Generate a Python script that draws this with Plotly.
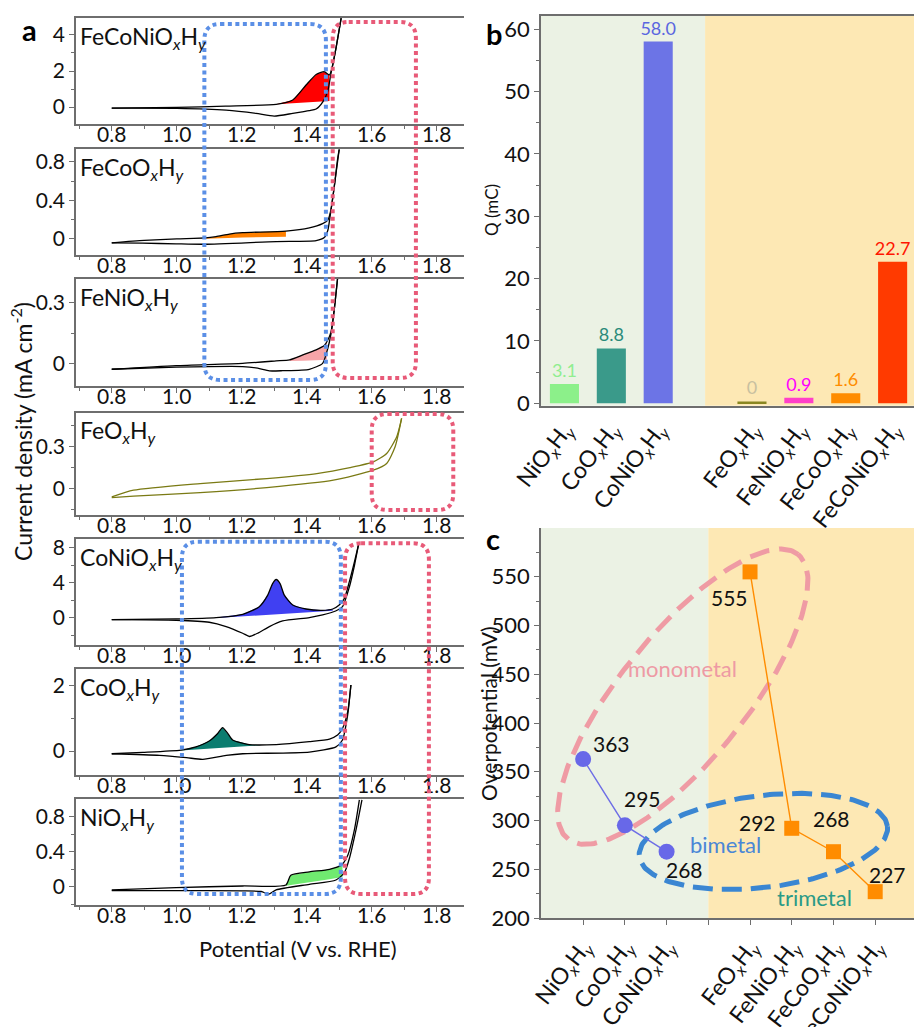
import numpy as np
import plotly.graph_objects as go

W, H = 914, 1027
FONT = "Lato, 'Open Sans', sans-serif"

# ---------------- DATA ----------------
# Panel a: CV curves (potential V vs RHE, current density mA cm-2)
feconi_an_V = [0.80, 1.00, 1.15, 1.306, 1.357, 1.398, 1.429, 1.454, 1.47, 1.48, 1.49, 1.506]
feconi_an_j = [-0.06, -0.02, 0.05, 0.15, 0.39, 1.22, 1.81, 1.96, 1.78, 2.33, 3.26, 4.93]
feconi_cat_V = [1.506, 1.49, 1.475, 1.465, 1.45, 1.429, 1.408, 1.357, 1.30, 1.244, 1.152, 1.0, 0.8]
feconi_cat_j = [4.93, 3.26, 1.9, 0.9, 0.3, -0.11, -0.2, -0.35, -0.5, -0.35, -0.17, -0.07, -0.06]
feconi_pk_V = [1.306, 1.357, 1.398, 1.429, 1.454, 1.47]
feconi_pk_top = [0.15, 0.39, 1.22, 1.81, 1.96, 1.78]
feconi_pk_base = [0.15, 0.206, 0.25, 0.285, 0.31, 0.33]

feco_an_V = [0.80, 0.90, 1.00, 1.088, 1.121, 1.162, 1.203, 1.336, 1.408, 1.449, 1.465, 1.475, 1.485, 1.495, 1.50]
feco_an_j = [-0.04, -0.015, 0.0, 0.01, 0.024, 0.051, 0.065, 0.082, 0.116, 0.16, 0.195, 0.31, 0.55, 0.83, 0.93]
feco_cat_V = [1.50, 1.485, 1.475, 1.465, 1.454, 1.429, 1.306, 1.085, 0.998, 0.895, 0.80]
feco_cat_j = [0.93, 0.55, 0.31, 0.09, 0.014, -0.017, -0.027, -0.055, -0.051, -0.044, -0.04]
feco_pk_V = [1.088, 1.121, 1.162, 1.203, 1.336]
feco_pk_top = [0.01, 0.024, 0.051, 0.065, 0.082]
feco_pk_base = [0.003, 0.007, 0.011, 0.014, 0.024]

feni_an_V = [0.80, 0.998, 1.203, 1.306, 1.347, 1.388, 1.429, 1.454, 1.465, 1.475, 1.485, 1.495]
feni_an_j = [-0.026, -0.008, 0.003, 0.015, 0.02, 0.044, 0.069, 0.09, 0.117, 0.158, 0.27, 0.42]
feni_cat_V = [1.495, 1.485, 1.475, 1.465, 1.449, 1.408, 1.326, 1.285, 1.249, 1.203, 0.998, 0.80]
feni_cat_j = [0.42, 0.27, 0.15, 0.077, 0.003, -0.026, -0.033, -0.034, -0.021, -0.013, -0.016, -0.026]
feni_pk_V = [1.347, 1.388, 1.429, 1.454, 1.462]
feni_pk_top = [0.02, 0.044, 0.069, 0.09, 0.105]
feni_pk_base = [0.015, 0.016, 0.018, 0.02, 0.021]

feo_up_V = [0.80, 0.867, 1.072, 1.277, 1.431, 1.533, 1.605, 1.646, 1.677, 1.692]
feo_up_j = [-0.06, -0.012, 0.036, 0.072, 0.108, 0.151, 0.192, 0.252, 0.372, 0.504]
feo_lo_V = [1.692, 1.672, 1.646, 1.605, 1.482, 1.277, 1.072, 0.867, 0.80]
feo_lo_j = [0.504, 0.30, 0.18, 0.132, 0.06, 0.007, -0.029, -0.055, -0.065]

coni_an_V = [0.80, 0.998, 1.121, 1.203, 1.254, 1.28, 1.295, 1.306, 1.318, 1.331, 1.357, 1.398, 1.449, 1.48, 1.50, 1.516, 1.531, 1.547, 1.56]
coni_an_j = [-0.19, -0.11, 0.04, 0.42, 1.28, 2.6, 3.92, 4.38, 3.92, 2.6, 1.47, 1.02, 0.87, 1.02, 1.47, 2.23, 4.1, 6.4, 8.45]
coni_cat_V = [1.56, 1.547, 1.531, 1.51, 1.489, 1.449, 1.408, 1.326, 1.285, 1.249, 1.224, 1.203, 1.152, 1.10, 0.998, 0.80]
coni_cat_j = [8.45, 6.0, 3.5, 1.28, 0.79, 0.34, 0.04, -0.34, -0.98, -1.74, -2.11, -1.74, -0.98, -0.49, -0.26, -0.19]
coni_pk_V = [1.121, 1.203, 1.254, 1.28, 1.295, 1.306, 1.318, 1.331, 1.357, 1.398, 1.449, 1.48]
coni_pk_top = [0.04, 0.42, 1.28, 2.6, 3.92, 4.38, 3.92, 2.6, 1.47, 1.02, 0.87, 1.02]
coni_pk_base = [0.0, 0.185, 0.30, 0.36, 0.39, 0.41, 0.44, 0.47, 0.53, 0.62, 0.74, 0.81]

coo_an_V = [0.80, 0.895, 1.013, 1.059, 1.10, 1.126, 1.141, 1.157, 1.172, 1.223, 1.306, 1.408, 1.47, 1.495, 1.51, 1.526, 1.536]
coo_an_j = [-0.08, -0.04, 0.03, 0.13, 0.31, 0.54, 0.72, 0.54, 0.34, 0.2, 0.2, 0.29, 0.37, 0.49, 0.69, 1.2, 2.02]
coo_cat_V = [1.536, 1.526, 1.51, 1.49, 1.408, 1.203, 1.152, 1.08, 1.03, 0.947, 0.80]
coo_cat_j = [2.02, 1.1, 0.34, 0.13, -0.03, -0.08, -0.13, -0.25, -0.2, -0.13, -0.08]
coo_pk_V = [1.013, 1.059, 1.10, 1.126, 1.141, 1.157, 1.172, 1.223, 1.26]
coo_pk_top = [0.03, 0.13, 0.31, 0.54, 0.72, 0.54, 0.34, 0.2, 0.19]
coo_pk_base = [0.02, 0.05, 0.076, 0.093, 0.103, 0.113, 0.122, 0.156, 0.18]

nio_an_V = [0.80, 0.998, 1.203, 1.336, 1.351, 1.408, 1.47, 1.506, 1.526, 1.547, 1.562]
nio_an_j = [-0.037, -0.011, 0.007, 0.019, 0.13, 0.168, 0.198, 0.243, 0.355, 0.654, 0.99]
nio_cat_V = [1.57, 1.552, 1.531, 1.516, 1.49, 1.408, 1.306, 1.283, 1.26, 1.203, 0.998, 0.80]
nio_cat_j = [0.99, 0.654, 0.318, 0.16, 0.075, 0.026, -0.037, -0.086, -0.056, -0.049, -0.045, -0.045]
nio_pk_V = [1.336, 1.351, 1.408, 1.47, 1.51]
nio_pk_top = [0.019, 0.13, 0.168, 0.198, 0.24]
nio_pk_base = [0.011, 0.02, 0.05, 0.085, 0.11]

a_names = ["FeCoNiO<sub><i>x</i></sub>H<sub><i>y</i></sub>",
           "FeCoO<sub><i>x</i></sub>H<sub><i>y</i></sub>",
           "FeNiO<sub><i>x</i></sub>H<sub><i>y</i></sub>",
           "FeO<sub><i>x</i></sub>H<sub><i>y</i></sub>",
           "CoNiO<sub><i>x</i></sub>H<sub><i>y</i></sub>",
           "CoO<sub><i>x</i></sub>H<sub><i>y</i></sub>",
           "NiO<sub><i>x</i></sub>H<sub><i>y</i></sub>"]
a_yticks = [[0, 2, 4], [0, 0.4, 0.8], [0, 0.3], [0, 0.3], [0, 4, 8], [0, 2], [0, 0.4, 0.8]]
a_yminor = [[-1, 1, 3], [-0.2, 0.2, 0.6], [0.15], [-0.15, 0.15, 0.45], [-2, 2, 6], [1], [-0.2, 0.2, 0.6]]
a_xticks = [0.8, 1.0, 1.2, 1.4, 1.6, 1.8]

# Panel b / c categories
cat_labels = ["NiO<sub><i>x</i></sub>H<sub><i>y</i></sub>",
              "CoO<sub><i>x</i></sub>H<sub><i>y</i></sub>",
              "CoNiO<sub><i>x</i></sub>H<sub><i>y</i></sub>",
              "FeO<sub><i>x</i></sub>H<sub><i>y</i></sub>",
              "FeNiO<sub><i>x</i></sub>H<sub><i>y</i></sub>",
              "FeCoO<sub><i>x</i></sub>H<sub><i>y</i></sub>",
              "FeCoNiO<sub><i>x</i></sub>H<sub><i>y</i></sub>"]
cat_pos = [0, 1, 2, 4, 5, 6, 7]

q_values = [3.1, 8.8, 58.0, 0.3, 0.9, 1.6, 22.7]
q_text = ["3.1", "8.8", "58.0", "0", "0.9", "1.6", "22.7"]

eta_nico = [363, 295, 268]
eta_fe = [555, 292, 268, 227]

# ---------------- STYLE ----------------
AX = "#6e6e6e"
bar_colors = ["#8CF08A", "#3A9A8A", "#6C74E6", "#8A8620", "#FF40C8", "#FF8C00", "#FF3A00"]
bar_text_colors = ["#90EE90", "#2A8A7A", "#5A66E0", "#C8C0A0", "#FF00FF", "#FF8C00", "#FF1500"]
GREEN_BG = "#EBF2E4"
YEL_BG = "#FDE8B4"

fig = go.Figure()

# ---------------- PANEL A ----------------
a_tops = [18, 149, 279, 412.7, 539, 669, 799]
a_bots = [124, 255, 386, 515, 645, 775, 905]
a_yranges = [[-0.94, 4.94], [-0.167, 0.935], [-0.108, 0.416], [-0.19, 0.545],
             [-3.08, 8.99], [-0.73, 2.51], [-0.21, 1.0]]
A_XL, A_XR = 76, 464
A_XRANGE = [0.69, 1.884]

cv_sets = [
    (feconi_an_V, feconi_an_j, feconi_cat_V, feconi_cat_j, feconi_pk_V, feconi_pk_top, feconi_pk_base, "#FF0000", "black"),
    (feco_an_V, feco_an_j, feco_cat_V, feco_cat_j, feco_pk_V, feco_pk_top, feco_pk_base, "#FF8000", "black"),
    (feni_an_V, feni_an_j, feni_cat_V, feni_cat_j, feni_pk_V, feni_pk_top, feni_pk_base, "#F6A5A8", "black"),
    (feo_up_V, feo_up_j, feo_lo_V, feo_lo_j, None, None, None, None, "#7A7A14"),
    (coni_an_V, coni_an_j, coni_cat_V, coni_cat_j, coni_pk_V, coni_pk_top, coni_pk_base, "#4040F2", "black"),
    (coo_an_V, coo_an_j, coo_cat_V, coo_cat_j, coo_pk_V, coo_pk_top, coo_pk_base, "#0B7D70", "black"),
    (nio_an_V, nio_an_j, nio_cat_V, nio_cat_j, nio_pk_V, nio_pk_top, nio_pk_base, "#70EA70", "black"),
]

layout_axes = {}
annotations = []
shapes = []

for i, (aV, aj, cV, cj, pV, pT, pB, fcol, lcol) in enumerate(cv_sets):
    n = i + 1
    sfx = "" if n == 1 else str(n)
    xa, ya = "x" + sfx, "y" + sfx
    if pV is not None:
        fig.add_trace(go.Scatter(x=list(pV) + list(pV)[::-1], y=list(pT) + list(pB)[::-1],
                                 mode="lines", fill="toself", fillcolor=fcol,
                                 line=dict(width=0, color=fcol), xaxis=xa, yaxis=ya,
                                 hoverinfo="skip", showlegend=False))
    for vv, jj in ((aV, aj), (cV, cj)):
        fig.add_trace(go.Scatter(x=vv, y=jj, mode="lines",
                                 line=dict(color=lcol, width=1.3, shape="spline", smoothing=0.6),
                                 xaxis=xa, yaxis=ya, showlegend=False, hoverinfo="skip"))
    xk = "xaxis" + sfx
    yk = "yaxis" + sfx
    layout_axes[xk] = dict(domain=[A_XL / W, A_XR / W], range=A_XRANGE, anchor=ya,
                           showline=True, linecolor=AX, linewidth=1.5, mirror=True,
                           ticks="outside", ticklen=5, tickcolor=AX, tickwidth=1.2,
                           tickvals=a_xticks, ticktext=[f"{v:.1f}" for v in a_xticks],
                           tickfont=dict(size=21, color="#111", family=FONT),
                           ticklabelstandoff=-14,
                           minor=dict(tickvals=[0.7, 0.9, 1.1, 1.3, 1.5, 1.7], ticks="outside",
                                      ticklen=3, tickcolor=AX),
                           showgrid=False, zeroline=False, fixedrange=True, automargin=False)
    yt = a_yticks[i]
    layout_axes[yk] = dict(domain=[1 - a_bots[i] / H, 1 - a_tops[i] / H], range=a_yranges[i],
                           anchor=xa, showline=True, linecolor=AX, linewidth=1.5,
                           ticks="outside", ticklen=5, tickcolor=AX, tickwidth=1.2,
                           tickvals=yt, ticktext=[("0" if v == 0 else f"{v:g}") for v in yt],
                           tickfont=dict(size=21, color="#111", family=FONT),
                           minor=dict(tickvals=a_yminor[i], ticks="outside", ticklen=3, tickcolor=AX),
                           showgrid=False, zeroline=False, fixedrange=True, automargin=False)
    annotations.append(dict(text=a_names[i], xref=f"{xa} domain", yref=f"{ya} domain",
                            x=0.005, y=0.985, xanchor="left", yanchor="top", showarrow=False,
                            font=dict(size=23, color="#111", family=FONT)))


def vpx(v):
    return A_XL + (v - A_XRANGE[0]) / (A_XRANGE[1] - A_XRANGE[0]) * (A_XR - A_XL)


def rrect(x0, y0, x1, y1, r):
    X = lambda p: f"{p / W:.5f}"
    Y = lambda p: f"{1 - p / H:.5f}"
    return (f"M {X(x0 + r)},{Y(y0)} L {X(x1 - r)},{Y(y0)} Q {X(x1)},{Y(y0)} {X(x1)},{Y(y0 + r)} "
            f"L {X(x1)},{Y(y1 - r)} Q {X(x1)},{Y(y1)} {X(x1 - r)},{Y(y1)} "
            f"L {X(x0 + r)},{Y(y1)} Q {X(x0)},{Y(y1)} {X(x0)},{Y(y1 - r)} "
            f"L {X(x0)},{Y(y0 + r)} Q {X(x0)},{Y(y0)} {X(x0 + r)},{Y(y0)} Z")


BLUE_DOT = "#5B8FE6"
PINK_DOT = "#E85A78"
boxes = [
    (1.085, 1.459, 24, 380, BLUE_DOT),
    (1.48, 1.736, 22, 378, PINK_DOT),
    (1.60, 1.851, 414, 510, PINK_DOT),
    (1.016, 1.505, 541.7, 894, BLUE_DOT),
    (1.518, 1.776, 543.3, 894, PINK_DOT),
]
for v0, v1, t, b, col in boxes:
    shapes.append(dict(type="path", path=rrect(vpx(v0), t, vpx(v1), b, 16), xref="paper", yref="paper",
                       line=dict(color=col, width=4, dash="4px,3.5px"), layer="above"))


def paper_text(text, xp, yp, size, angle=0, color="#111"):
    return dict(text=text, x=xp / W, y=1 - yp / H, xref="paper", yref="paper",
                xanchor="center", yanchor="middle", textangle=angle, showarrow=False,
                font=dict(size=size, color=color, family=FONT))


annotations.append(paper_text("Current density (mA cm<sup>-2</sup>)", 22, 432, 23, -90))
annotations.append(paper_text("Potential (V vs. RHE)", 298, 948, 22))
for lab, xx, yy in (("a", 30, 30), ("b", 494, 33), ("c", 493, 538)):
    annotations.append(paper_text(f"<b>{lab}</b>", xx, yy, 29, 0, "#000"))

# ---------------- PANEL B ----------------
B_XR = [-0.5, 7.456]
B_YR = [-0.38, 62.1]
fig.add_trace(go.Bar(x=cat_pos, y=q_values, width=0.62, marker=dict(color=bar_colors, line=dict(width=0)),
                     text=q_text, textposition="outside", cliponaxis=False, constraintext="none",
                     textfont=dict(size=18, color=bar_text_colors, family=FONT),
                     xaxis="x8", yaxis="y8", showlegend=False, hoverinfo="skip"))
layout_axes["xaxis8"] = dict(domain=[541 / W, 1.0], range=B_XR, anchor="y8",
                             showline=True, linecolor=AX, linewidth=1.5, mirror=True, ticks="",
                             tickvals=cat_pos, ticktext=cat_labels, tickangle=-52,
                             tickfont=dict(size=23, color="#111", family=FONT),
                             showgrid=False, zeroline=False, fixedrange=True, automargin=False)
layout_axes["yaxis8"] = dict(domain=[1 - 405.7 / H, 1 - 16 / H], range=B_YR, anchor="x8",
                             showline=True, linecolor=AX, linewidth=1.5,
                             ticks="outside", ticklen=5, tickcolor=AX,
                             tickvals=[0, 10, 20, 30, 40, 50, 60],
                             tickfont=dict(size=22, color="#111", family=FONT),
                             minor=dict(tickvals=[5, 15, 25, 35, 45, 55], ticks="outside", ticklen=3, tickcolor=AX),
                             showgrid=False, zeroline=False, fixedrange=True, automargin=False)
shapes.append(dict(type="rect", xref="x8", yref="y8 domain", x0=B_XR[0], x1=3, y0=0, y1=1,
                   fillcolor=GREEN_BG, line=dict(width=0), layer="below"))
shapes.append(dict(type="rect", xref="x8", yref="y8 domain", x0=3, x1=B_XR[1], y0=0, y1=1,
                   fillcolor=YEL_BG, line=dict(width=0), layer="below"))
annotations.append(paper_text("Q (mC)", 492, 210, 17, -90))

# ---------------- PANEL C ----------------
C_XR = [-1.01, 7.93]
C_YR = [200, 600]
C_XPX = (541, 914)
C_YPX = (528, 918)
px_per_x = (C_XPX[1] - C_XPX[0]) / (C_XR[1] - C_XR[0])
px_per_y = (C_YPX[1] - C_YPX[0]) / (C_YR[1] - C_YR[0])

shapes.append(dict(type="rect", xref="x9", yref="y9 domain", x0=C_XR[0], x1=3, y0=0, y1=1,
                   fillcolor=GREEN_BG, line=dict(width=0), layer="below"))
shapes.append(dict(type="rect", xref="x9", yref="y9 domain", x0=3, x1=C_XR[1], y0=0, y1=1,
                   fillcolor=YEL_BG, line=dict(width=0), layer="below"))


def ellipse(cx, cy, a_px, b_px, theta_deg, n=240):
    t = np.linspace(0, 2 * np.pi, n)
    th = np.radians(theta_deg)
    ex = a_px * np.cos(th) * np.cos(t) - b_px * np.sin(th) * np.sin(t)
    ey = a_px * np.sin(th) * np.cos(t) + b_px * np.cos(th) * np.sin(t)
    return cx + ex / px_per_x, cy + ey / px_per_y


ex, ey = ellipse(2.39, 427, 183, 63, 51)
fig.add_trace(go.Scatter(x=ex, y=ey, mode="lines", line=dict(color="#EF9BA4", width=5, dash="20px,10px"),
                         xaxis="x9", yaxis="y9", showlegend=False, hoverinfo="skip"))
ex, ey = ellipse(4.32, 278.5, 125, 46, 7)
fig.add_trace(go.Scatter(x=ex, y=ey, mode="lines", line=dict(color="#3A86D2", width=5, dash="20px,9px"),
                         xaxis="x9", yaxis="y9", showlegend=False, hoverinfo="skip"))

fig.add_trace(go.Scatter(x=cat_pos[:3], y=eta_nico, mode="lines+markers",
                         line=dict(color="#6E6EE6", width=1.4),
                         marker=dict(symbol="circle", size=16, color="#6868E8"),
                         xaxis="x9", yaxis="y9", showlegend=False, hoverinfo="skip"))
fig.add_trace(go.Scatter(x=cat_pos[3:], y=eta_fe, mode="lines+markers",
                         line=dict(color="#FF8C00", width=1.4),
                         marker=dict(symbol="square", size=15, color="#FF8C00"),
                         xaxis="x9", yaxis="y9", showlegend=False, hoverinfo="skip"))

label_shift = [(28, 16), (18, 27), (18, -18), (-21, -26), (-34, 6), (-2, 33), (12, 17)]
for (xp, val), (dx, dy) in zip(zip(cat_pos, eta_nico + eta_fe), label_shift):
    annotations.append(dict(text=str(val), x=xp, y=val, xref="x9", yref="y9", xshift=dx, yshift=dy,
                            showarrow=False, font=dict(size=21, color="#111", family=FONT)))

for txt, xx, yy, col in (("monometal", 2.39, 456, "#EE9AA4"), ("bimetal", 3.40, 275, "#4A86D6"),
                         ("trimetal", 5.55, 221, "#2A9A86")):
    annotations.append(dict(text=txt, x=xx, y=yy, xref="x9", yref="y9", showarrow=False,
                            font=dict(size=22, color=col, family=FONT)))

layout_axes["xaxis9"] = dict(domain=[C_XPX[0] / W, 1.0], range=C_XR, anchor="y9",
                             showline=True, linecolor=AX, linewidth=1.5,
                             ticks="outside", ticklen=5, tickcolor=AX,
                             tickvals=cat_pos + [3], ticktext=cat_labels + [""], tickangle=-52,
                             tickfont=dict(size=23, color="#111", family=FONT),
                             showgrid=False, zeroline=False, fixedrange=True, automargin=False)
layout_axes["yaxis9"] = dict(domain=[1 - C_YPX[1] / H, 1 - C_YPX[0] / H], range=C_YR, anchor="x9",
                             showline=True, linecolor=AX, linewidth=1.5,
                             ticks="outside", ticklen=5, tickcolor=AX,
                             tickvals=[200, 250, 300, 350, 400, 450, 500, 550],
                             tickfont=dict(size=22, color="#111", family=FONT),
                             minor=dict(tickvals=[225, 275, 325, 375, 425, 475, 525, 575],
                                        ticks="outside", ticklen=3, tickcolor=AX),
                             showgrid=False, zeroline=False, fixedrange=True, automargin=False)
annotations.append(paper_text("Overpotential (mV)", 488, 714, 21, -90))

fig.update_layout(width=W, height=H, margin=dict(l=0, r=0, t=0, b=0, pad=0, autoexpand=False),
                  paper_bgcolor="white", plot_bgcolor="rgba(0,0,0,0)",
                  font=dict(family=FONT, color="#111"),
                  showlegend=False, annotations=annotations, shapes=shapes, **layout_axes)

fig.write_html("out.html")
